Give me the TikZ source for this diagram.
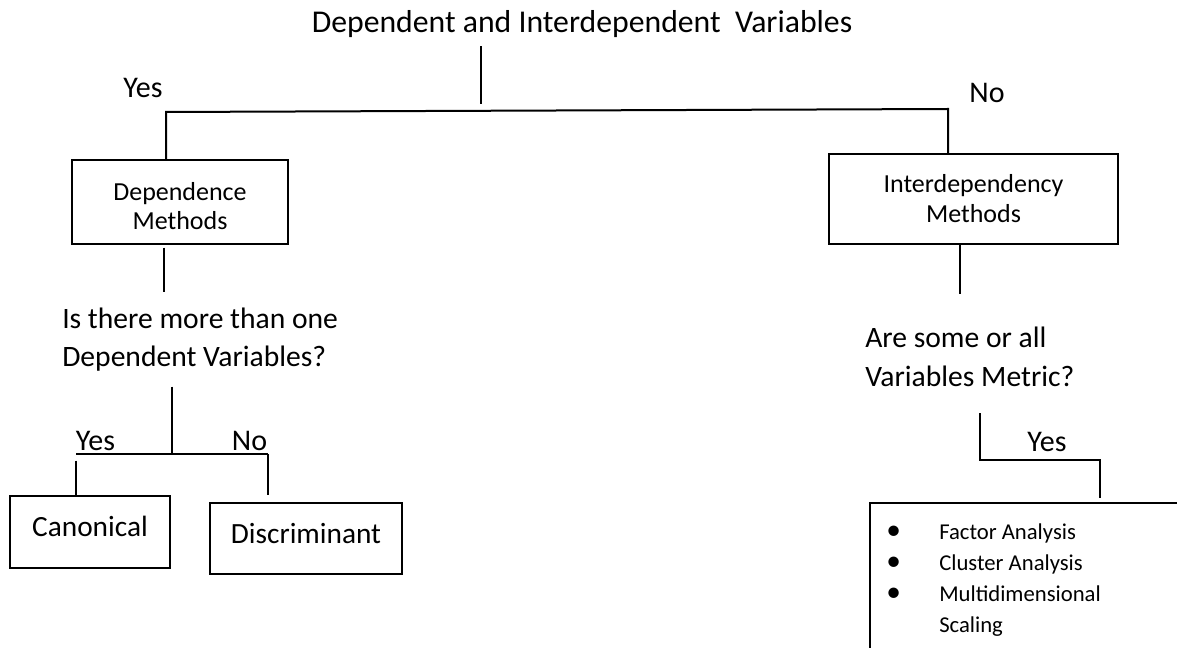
\documentclass[tikz,border=0pt]{standalone}
\usepackage{fontspec}
\setmainfont{Carlito}
\usetikzlibrary{positioning}

\newcommand{\listdot}{\makebox[39.75pt][l]{\fontsize{22}{23.25}\selectfont\textbullet}}

\begin{document}
\begin{tikzpicture}[
    x=0.75pt, y=-0.75pt,
    box/.style={
        draw,
        line width=1.5pt,
        inner sep=0pt,
        align=center
    },
    link/.style={line width=1.5pt},
    answer/.style={font=\fontsize{22.5}{26}\selectfont, inner sep=0pt},
    question/.style={
        align=left,
        inner sep=0pt,
        anchor=base west,
        font=\fontsize{22.2}{28.5}\selectfont
    }
]
\useasboundingbox (0,0) rectangle (1177,648);
\clip (0,0) rectangle (1177,648);

% top level
\node[font=\fontsize{23.8}{28}\selectfont, inner sep=0pt, anchor=base] (title) at (582,33)
    {Dependent and Interdependent\ \ Variables};
\node[answer] (yesA) at (143,88) {Yes};
\node[answer] (noA) at (987,93) {No};

\node[box, minimum width=162pt, minimum height=63pt, text height=42pt, font=\fontsize{19.5}{22}\selectfont] (dep) at (180,202)
    {Dependence\\Methods};
\node[box, minimum width=216.75pt, minimum height=67.5pt, font=\fontsize{19.5}{22.5}\selectfont] (inter) at (973.5,199)
    {Interdependency\\Methods};

\coordinate (split) at (481,104);
\coordinate (left) at (166,112);
\coordinate (right) at (948,109);
\draw[link, shorten <=6pt] (title.south -| split) -- (split);
\draw[link] (dep.north -| left) -- (left) -- (right) -- (inter.north -| right);

% questions
\coordinate (q1top) at (164,292);
\coordinate (q2top) at (960,294);
\draw[link, shorten <=2pt] (dep.south -| q1top) -- (q1top);
\draw[link] (inter.south -| q2top) -- (q2top);

\node[question] (q1) at (62,367) {Is there more than one\\Dependent Variables?};
\node[question] (q2) at (865,386) {Are some or all\\Variables Metric?};

% dependence branch
\coordinate (q1split) at (172,454);
\coordinate (cl) at (76,454);
\coordinate (cr) at (268,454);
\node[box, minimum width=120pt, minimum height=54pt, text depth=9pt, font=\fontsize{22}{26}\selectfont] (canon) at (90,532) {Canonical};
\node[box, minimum width=144pt, minimum height=53.25pt, text depth=7.5pt, font=\fontsize{22}{26}\selectfont] (discr) at (306,538.5) {Discriminant};
\node[answer] (yesB) at (95.5,441) {Yes};
\node[answer] (noB) at (249.5,441) {No};

\draw[link, shorten <=11pt] (q1.south -| q1split) -- (q1split);
\draw[link] (cl) -- (cr);
\draw[link, shorten <=5pt] (cl) -- (canon.north -| cl);
\draw[link, shorten >=5pt] (cr) -- (discr.north -| cr);

% interdependency branch
\coordinate (rs) at (980,460);
\coordinate (rr) at (1100,460);
\node[box, anchor=north west, minimum width=300pt, minimum height=150pt] (metricbox) at (869,502) {};
\node[answer] (yesC) at (1047,442) {Yes};
\node[anchor=base west, align=left, inner sep=0pt, font=\fontsize{17}{23.25}\selectfont] (techniques) at (886,632)
    {\listdot Factor Analysis\\
     \listdot Cluster Analysis\\
     \listdot Multidimensional\\
     \makebox[39.75pt][l]{}Scaling};

\draw[link, shorten <=20pt, shorten >=3pt] (q2.south -| rs) -- (rs) -- (rr) -- (metricbox.north -| rr);
\end{tikzpicture}
\end{document}
